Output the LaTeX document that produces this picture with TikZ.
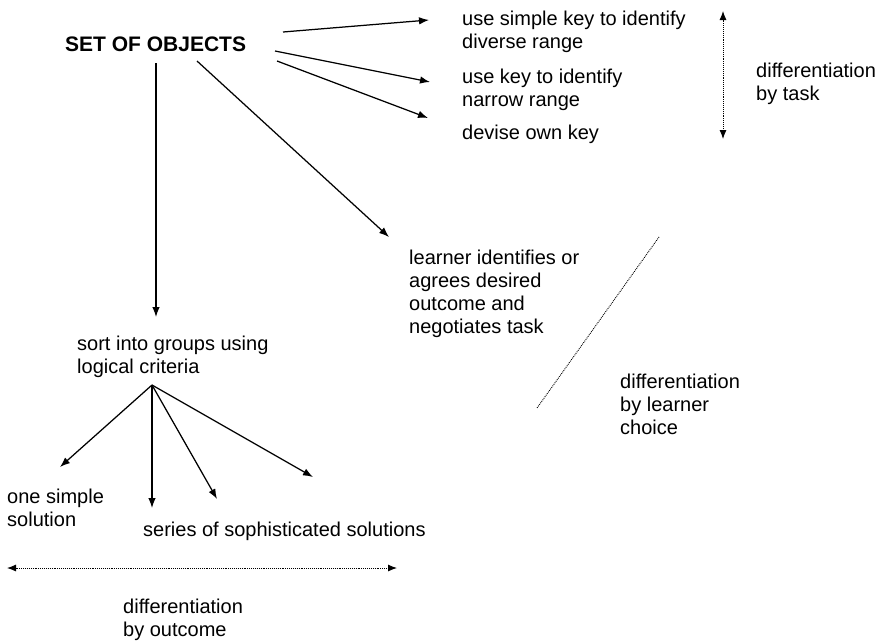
\documentclass[tikz,border=0pt]{standalone}
\usepackage{fontspec}
\setmainfont{Liberation Sans}
\usetikzlibrary{arrows.meta}
\tikzset{
  lbl/.style={anchor=north west, inner sep=0pt, align=left, font=\fontsize{20}{23}\selectfont},
  arr/.style={-{Latex[length=10pt,width=7.5pt]}, line width=1.25pt},
  dots/.style={densely dotted, line width=0.9pt},
  dotarr/.style={dots, {Latex[length=9pt,width=7pt]}-{Latex[length=9pt,width=7pt]}},
}
\begin{document}
\begin{tikzpicture}[x=1pt,y=-1pt]
\useasboundingbox (0,0) rectangle (880,643);

% Marking the set of objects
\node[anchor=base west, inner sep=0pt, font=\fontsize{21}{23}\selectfont\bfseries] (set) at (65,51) {SET OF OBJECTS};

% Marking the tasks
\node[lbl] (simplekey) at (462,10.5) {use simple key to identify\\diverse range};
\node[lbl] (narrowkey) at (462,68.5) {use key to identify\\narrow range};
\node[lbl] (ownkey) at (462,125) {devise own key};
\node[lbl] (bytask) at (756,63) {differentiation\\by task};

% Marking learner choice
\node[lbl] (learner) at (409,249.5) {learner identifies or\\agrees desired\\outcome and\\negotiates task};
\node[lbl] (bychoice) at (620,373.5) {differentiation\\by learner\\choice};

% Marking the outcomes
\node[lbl] (sort) at (77,336) {sort into groups using\\logical criteria};
\node[lbl] (onesimple) at (7,488.5) {one simple\\solution};
\node[anchor=base west, inner sep=0pt, font=\fontsize{20}{23}\selectfont] (series) at (143,536) {series of sophisticated solutions};
\node[lbl] (byoutcome) at (123,598.5) {differentiation\\by outcome};

% Points where the connectors start and end
\coordinate (s1) at (283,32);  \coordinate (t1) at (429,20);
\coordinate (s2) at (275,51);  \coordinate (t2) at (430,82);
\coordinate (s3) at (277,61);  \coordinate (t3) at (428,118);
\coordinate (s4) at (156,63);  \coordinate (t4) at (156,317);
\coordinate (s5) at (197,61);  \coordinate (t5) at (389,237);
\coordinate (fan) at (152,385);
\coordinate (f1) at (60,467);  \coordinate (f2) at (152,508);
\coordinate (f3) at (217,499); \coordinate (f4) at (313,477);

% Drawing arrows from the set of objects
\draw[arr] (s1) -- (t1);
\draw[arr] (s2) -- (t2);
\draw[arr] (s3) -- (t3);
\draw[arr] (s4) -- (t4);
\draw[arr] (s5) -- (t5);

% Drawing the fan of solutions
\foreach \f in {f1,f2,f3,f4}
  \draw[arr] (fan) -- (\f);

% Drawing the dotted scales
\draw[dotarr] (723,11) -- (723,139);
\draw[dots] (659,237) -- (537,408);
\draw[dotarr] (7,568) -- (397,568);
\end{tikzpicture}
\end{document}
